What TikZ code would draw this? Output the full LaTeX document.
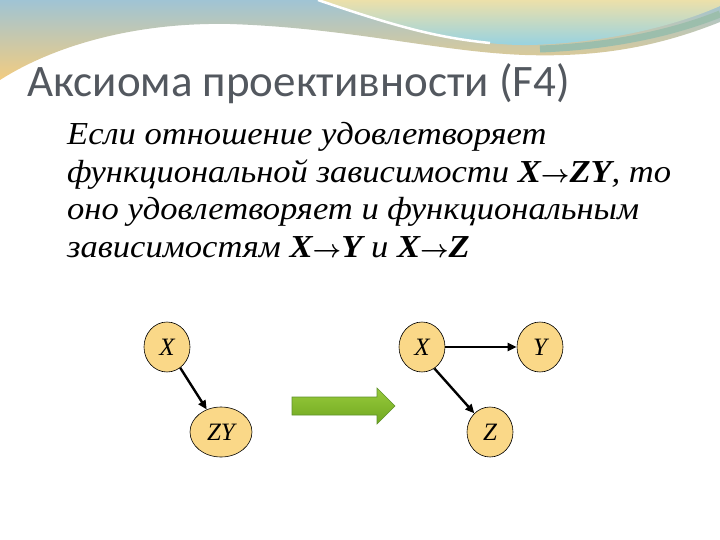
\documentclass[tikz,border=0pt]{standalone}
\usepackage{fontspec}
\setmainfont{Liberation Serif}
\newfontfamily\titlefont{Carlito}
\newfontfamily\bodyfont[FakeStretch=1.08]{Liberation Serif}
\usetikzlibrary{arrows.meta, shapes.geometric}

\definecolor{titlegrey}{RGB}{83,88,95}
\definecolor{nodefill}{RGB}{250,216,136}
\definecolor{greenlight}{RGB}{152,202,60}
\definecolor{greendark}{RGB}{112,168,32}
\definecolor{greenedge}{RGB}{96,146,44}
\definecolor{swooshblue}{RGB}{160,196,212}
\definecolor{swooshsand}{RGB}{242,204,128}
\definecolor{crestyellow}{RGB}{236,224,170}
\definecolor{crestblue}{RGB}{150,210,226}
\definecolor{crestteal}{RGB}{156,190,172}

\begin{document}
\begin{tikzpicture}[x=1pt, y=-1pt,
    attr/.style={ellipse, draw=black, line width=0.6pt, fill=nodefill, inner sep=0pt,
      minimum width=46, minimum height=50, font=\itshape\fontsize{25}{25}\selectfont},
    fd/.style={-{Triangle[length=9pt, width=8pt]}, line width=2.4pt},
    textline/.style={anchor=base west, inner sep=0pt, font=\bodyfont\itshape\fontsize{32}{32}\selectfont},
    greenarrow/.style={draw=greenedge, line width=0.6pt, top color=greenlight, bottom color=greendark},
  ]
  \useasboundingbox (0,0) rectangle (720,540);
  \fill[white] (0,0) rectangle (720,540);

  % top decoration
  \shade[top color=swooshblue, bottom color=swooshsand]
    (0,0) -- (720,0) -- (720,22) .. controls (650,50) and (590,57) .. (525,55)
    .. controls (440,52) and (350,28) .. (230,24)
    .. controls (130,22) and (50,48) .. (0,80) -- cycle;
  \draw[crestteal, line width=7pt] (540,49) .. controls (620,46) and (680,30) .. (720,14);
  \shade[top color=crestyellow, bottom color=crestblue]
    (318,0) .. controls (400,28) and (470,46) .. (530,45)
    .. controls (610,43) and (680,24) .. (720,6) -- (720,0) -- cycle;
  \draw[white, line width=2.5pt] (318,0) .. controls (400,28) and (440,38) .. (490,43);

  % title
  \node[anchor=base west, inner sep=0pt, text=titlegrey, font=\titlefont\fontsize{45}{45}\selectfont]
    (title) at (27,97) {Аксиома проективности (F4)};

  % statement
  \node[textline] (line1) at (67,145) {Если отношение удовлетворяет};
  \node[textline] (line2) at (67,183) {функциональной зависимости \textbf{X}{\boldmath$\rightarrow$}\textbf{ZY}, то};
  \node[textline] (line3) at (67,220) {оно удовлетворяет и функциональным};
  \node[textline] (line4) at (67,257) {зависимостям \textbf{X}{\boldmath$\rightarrow$}\textbf{Y} и \textbf{X}{\boldmath$\rightarrow$}\textbf{Z}};

  % before
  \node[attr] (xa) at (167,347) {X};
  \node[attr, minimum width=62] (zy) at (221,432) {ZY};
  \draw[fd] (xa) -- (zy);

  % implication
  \draw[greenarrow] (292,397) -- (377,397) -- (377,388) -- (395,406) -- (377,424)
    -- (377,415) -- (292,415) -- cycle;

  % after
  \node[attr] (xb) at (422,347) {X};
  \node[attr] (y) at (540,347) {Y};
  \node[attr] (z) at (490,432) {Z};
  \draw[fd] (xb) -- (y);
  \draw[fd] (xb.-60) -- (z.130);
\end{tikzpicture}
\end{document}
